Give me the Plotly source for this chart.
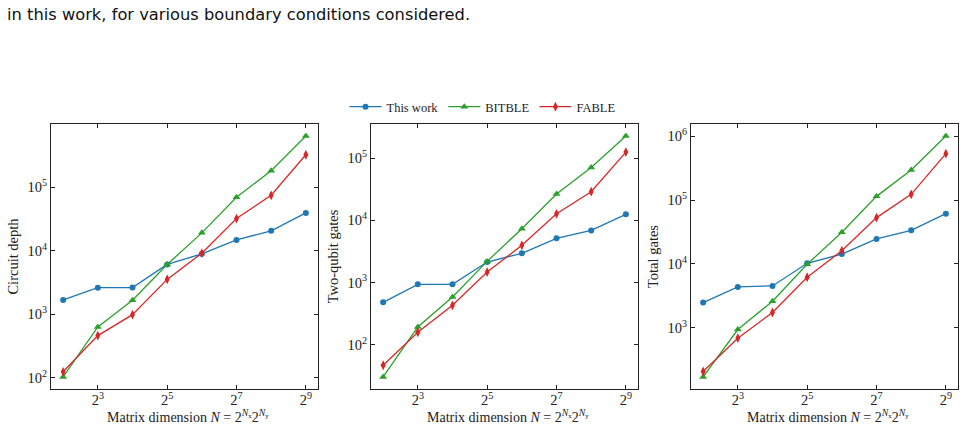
import plotly.graph_objects as go
import math

# ---------------- data ----------------
N = [4, 8, 16, 32, 64, 128, 256, 512]

depth_this = [1670, 2610, 2620, 6070, 8930, 14800, 20600, 39400]
depth_bitble = [102, 627, 1650, 6070, 19100, 69700, 183000, 643000]
depth_fable = [123, 458, 980, 3530, 9140, 32100, 74800, 326000]

twoq_this = [479, 933, 933, 2130, 2940, 5120, 6870, 12450]
twoq_bitble = [30.2, 192, 583, 2180, 7310, 26400, 70700, 226000]
twoq_fable = [46.6, 158, 429, 1470, 3950, 12700, 28800, 124700]

total_this = [2490, 4380, 4530, 10240, 14300, 24600, 33600, 61100]
total_bitble = [171, 942, 2610, 9890, 31300, 114000, 294000, 1000000]
total_fable = [208, 690, 1740, 6190, 16100, 53000, 122700, 530000]

series_names = ["This work", "BITBLE", "FABLE"]
y_titles = ["Circuit depth", "Two-qubit gates", "Total gates"]
x_title = "Matrix dimension <i>N</i> = 2<sup><i>N</i><sub>x</sub></sup>2<sup><i>N</i><sub>y</sub></sup>"
x_tickvals = [8, 32, 128, 512]
x_ticktext = ["2<sup>3</sup>", "2<sup>5</sup>", "2<sup>7</sup>", "2<sup>9</sup>"]
y_tickvals = [100, 1000, 10000, 100000, 1000000]
y_ticktext = ["10<sup>2</sup>", "10<sup>3</sup>", "10<sup>4</sup>", "10<sup>5</sup>", "10<sup>6</sup>"]
caption = "in this work, for various boundary conditions considered."

# ---------------- style ----------------
colors = ["#1f77b4", "#2ca02c", "#d62728"]
symbols = ["circle", "triangle-up", "diamond-tall"]
msizes = [6, 7, 7]
serif = "Liberation Serif, Times New Roman, serif"

W, H = 965, 425
panels_px = [(51, 318), (371, 638), (691, 958)]
top_px, bot_px = 124, 389

datasets = [
    [depth_this, depth_bitble, depth_fable],
    [twoq_this, twoq_bitble, twoq_fable],
    [total_this, total_bitble, total_fable],
]

fig = go.Figure()

def log_range(vals, frac=0.05):
    lo = math.log10(min(vals)); hi = math.log10(max(vals))
    d = (hi - lo) * frac
    return [lo - d, hi + d]

xr = log_range(N)

for p, data in enumerate(datasets):
    ax = "" if p == 0 else str(p + 1)
    for s, ys in enumerate(data):
        fig.add_trace(go.Scatter(
            x=N, y=ys, mode="lines+markers", name=series_names[s],
            showlegend=(p == 1),
            line=dict(color=colors[s], width=1.3),
            marker=dict(symbol=symbols[s], size=msizes[s], color=colors[s]),
            xaxis="x" + ax, yaxis="y" + ax,
        ))
    allv = [v for ys in data for v in ys]
    x0, x1 = panels_px[p]
    common = dict(showline=True, linecolor="#222", linewidth=1, mirror="ticks",
                  ticks="inside", ticklen=4, tickcolor="#222", showgrid=False,
                  zeroline=False, tickfont=dict(family=serif, size=14.5, color="#222"))
    fig.layout["xaxis" + ax] = dict(
        type="log", range=xr, domain=[x0 / W, x1 / W], anchor="y" + ax,
        tickvals=x_tickvals, ticktext=x_ticktext, ticklabelstandoff=-2, **common)
    fig.layout["yaxis" + ax] = dict(
        type="log", range=log_range(allv), domain=[1 - bot_px / H, 1 - top_px / H],
        anchor="x" + ax, tickvals=y_tickvals, ticktext=y_ticktext,
        title=dict(text=y_titles[p], font=dict(family=serif, size=14.5, color="#222"), standoff=5),
        **common)
    fig.add_annotation(text=x_title, xref="paper", yref="paper",
                       x=(x0 + x1) / 2 / W + 3 / W, y=1 - 416 / H,
                       xanchor="center", yanchor="middle", showarrow=False,
                       font=dict(family=serif, size=14, color="#222"))

fig.add_annotation(text=caption, xref="paper", yref="paper", x=5 / W, y=1 - 15 / H,
                   xanchor="left", yanchor="middle", showarrow=False,
                   font=dict(family="DejaVu Sans", size=16.3, color="#111"))

fig.update_layout(
    width=W, height=H, margin=dict(l=0, r=0, t=0, b=0),
    paper_bgcolor="white", plot_bgcolor="white",
    legend=dict(orientation="h", x=0.5, xanchor="center", y=1 - 107 / H, yanchor="middle",
                font=dict(family=serif, size=12.5, color="#222"), bgcolor="rgba(0,0,0,0)",
                itemwidth=32, tracegroupgap=0),
)

fig.write_html("out.html")
